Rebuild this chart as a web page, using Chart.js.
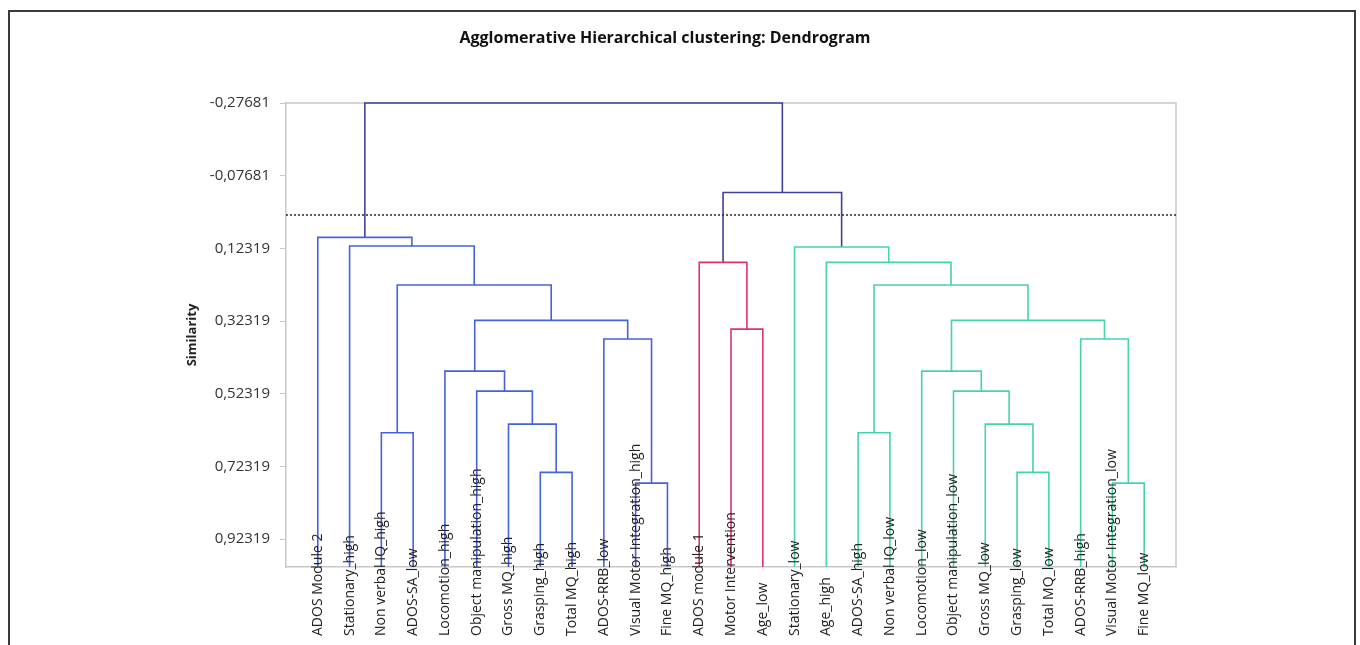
<!DOCTYPE html>
<html>
<head>
<meta charset="utf-8">
<script src="https://cdn.jsdelivr.net/npm/chart.js@4.4.1/dist/chart.umd.min.js"></script>
<style>
  html, body { margin: 0; padding: 0; background: #fff; overflow: hidden; }
  #wrap { position: relative; width: 1360px; height: 645px; }
  #frame { position: absolute; left: 8px; top: 10px; width: 1348px; height: 700px;
           border: 2px solid #3a3a3a; box-sizing: border-box; pointer-events: none; }
  canvas { position: absolute; left: 0; top: 0; }
</style>
</head>
<body>
<div id="wrap">
  <canvas id="dendro" width="1360" height="645"></canvas>
  <div id="frame"></div>
</div>
<script>
// ---- data ----
const chartTitle = 'Agglomerative Hierarchical clustering: Dendrogram';
const axisTitle = 'Similarity';

// leaves, in the order they appear along the axis
const leafLabels = [
  'ADOS Module 2', 'Stationary_high', 'Non verbal IQ_high', 'ADOS-SA_low',
  'Locomotion_high', 'Object manipulation_high', 'Gross MQ_high', 'Grasping_high',
  'Total MQ_high', 'ADOS-RRB_low', 'Visual Motor Integration_high', 'Fine MQ_high',
  'ADOS module 1', 'Motor Intervention', 'Age_low', 'Stationary_low', 'Age_high',
  'ADOS-SA_high', 'Non verbal IQ_low', 'Locomotion_low', 'Object manipulation_low',
  'Gross MQ_low', 'Grasping_low', 'Total MQ_low', 'ADOS-RRB_high',
  'Visual Motor Integration_low', 'Fine MQ_low'
];

// merges: ids < 27 are leaves, merge k creates node 27 + k
const mergeLeft  = [7, 6, 5, 4, 10, 9, 30, 2, 34, 1, 0, 13, 12, 22, 21, 20, 19, 25, 24, 43, 17, 47, 16, 15, 39, 37];
const mergeRight = [8, 27, 28, 29, 11, 31, 32, 3, 33, 35, 36, 14, 38, 23, 40, 41, 42, 26, 44, 45, 18, 46, 48, 49, 50, 51];
const mergeSimilarity = [
  0.7397, 0.6068, 0.5159, 0.4609, 0.7692, 0.3728, 0.3213, 0.6307, 0.2242, 0.1168, 0.0929,
  0.3453, 0.1617,
  0.7397, 0.6068, 0.5159, 0.4609, 0.7692, 0.3728, 0.3213, 0.6307, 0.2242, 0.1617, 0.1195,
  -0.0305, -0.27681
];
const mergeGroup = [
  'blue', 'blue', 'blue', 'blue', 'blue', 'blue', 'blue', 'blue', 'blue', 'blue', 'blue',
  'red', 'red',
  'teal', 'teal', 'teal', 'teal', 'teal', 'teal', 'teal', 'teal', 'teal', 'teal', 'teal',
  'link', 'link'
];
const groupColors = { blue: '#4363dc', red: '#e2306a', teal: '#45d3ad', link: '#40409a' };

const yTicks = [-0.27681, -0.07681, 0.12319, 0.32319, 0.52319, 0.72319, 0.92319];
const leafSimilarity = 1.0;
const cutSimilarity = 0.0315;

// ---- build dendrogram segments ----
const nodeX = leafLabels.map((_, i) => i + 1);
const nodeY = leafLabels.map(() => leafSimilarity);
const datasets = [];

datasets.push({
  data: [{ x: 0, y: cutSimilarity }, { x: leafLabels.length + 1, y: cutSimilarity }],
  borderColor: '#2a2a2a', borderWidth: 1.6, borderDash: [2, 2],
  showLine: true, pointRadius: 0, clip: false
});

mergeLeft.forEach((a, k) => {
  const b = mergeRight[k];
  const h = mergeSimilarity[k];
  const xa = nodeX[a], xb = nodeX[b];
  nodeX.push((xa + xb) / 2);
  nodeY.push(h);
  datasets.push({
    data: [{ x: xa, y: nodeY[a] }, { x: xa, y: h }, { x: xb, y: h }, { x: xb, y: nodeY[b] }],
    borderColor: groupColors[mergeGroup[k]], borderWidth: 1.6,
    showLine: true, pointRadius: 0, tension: 0, clip: false
  });
});

// ---- plugins: plot frame, title, leaf labels ----
const framePlugin = {
  id: 'plotFrame',
  beforeDatasetsDraw(chart) {
    const { ctx, chartArea: a } = chart;
    ctx.save();
    ctx.strokeStyle = '#c8c8c8';
    ctx.lineWidth = 1.5;
    ctx.beginPath();
    ctx.moveTo(a.left, a.top);
    ctx.lineTo(a.right, a.top);
    ctx.lineTo(a.right, a.bottom);
    ctx.stroke();
    ctx.restore();
  }
};

const textPlugin = {
  id: 'dendroText',
  afterDatasetsDraw(chart) {
    const { ctx } = chart;
    const xs = chart.scales.x;
    ctx.save();
    ctx.fillStyle = '#222';
    ctx.font = '14px "Open Sans"';
    ctx.textAlign = 'left';
    ctx.textBaseline = 'middle';
    leafLabels.forEach((lab, i) => {
      ctx.save();
      ctx.translate(xs.getPixelForValue(i + 1), 636);
      ctx.rotate(-Math.PI / 2);
      ctx.fillText(lab, 0, 0);
      ctx.restore();
    });
    ctx.font = 'bold 16px "Open Sans"';
    ctx.textAlign = 'center';
    ctx.fillStyle = '#111';
    ctx.fillText(chartTitle, 665, 38);
    ctx.restore();
  }
};

new Chart(document.getElementById('dendro'), {
  type: 'scatter',
  data: { datasets },
  options: {
    responsive: false,
    animation: false,
    layout: { padding: { left: 180, right: 184, top: 103, bottom: 0 } },
    plugins: { legend: { display: false }, tooltip: { enabled: false }, title: { display: false } },
    scales: {
      x: {
        type: 'linear', min: 0, max: leafLabels.length + 1,
        ticks: { display: false },
        grid: { display: false, drawTicks: false },
        border: { display: true, color: '#c8c8c8', width: 1.5 },
        afterFit(s) { s.height = 78; }
      },
      y: {
        type: 'linear', reverse: true, min: yTicks[0], max: leafSimilarity,
        afterBuildTicks(s) { s.ticks = yTicks.map(v => ({ value: v })); },
        ticks: {
          callback: v => v.toFixed(5).replace('.', ','),
          font: { family: 'Open Sans', size: 15 }, color: '#333', padding: 10
        },
        grid: { drawOnChartArea: false, tickLength: 6, color: '#c8c8c8' },
        border: { color: '#c8c8c8', width: 1.5 },
        title: { display: true, text: axisTitle, color: '#222',
                 font: { family: 'Open Sans', size: 13, weight: 'bold' } },
        afterFit(s) { s.width = 106; }
      }
    }
  },
  plugins: [framePlugin, textPlugin]
});
</script>
</body>
</html>
